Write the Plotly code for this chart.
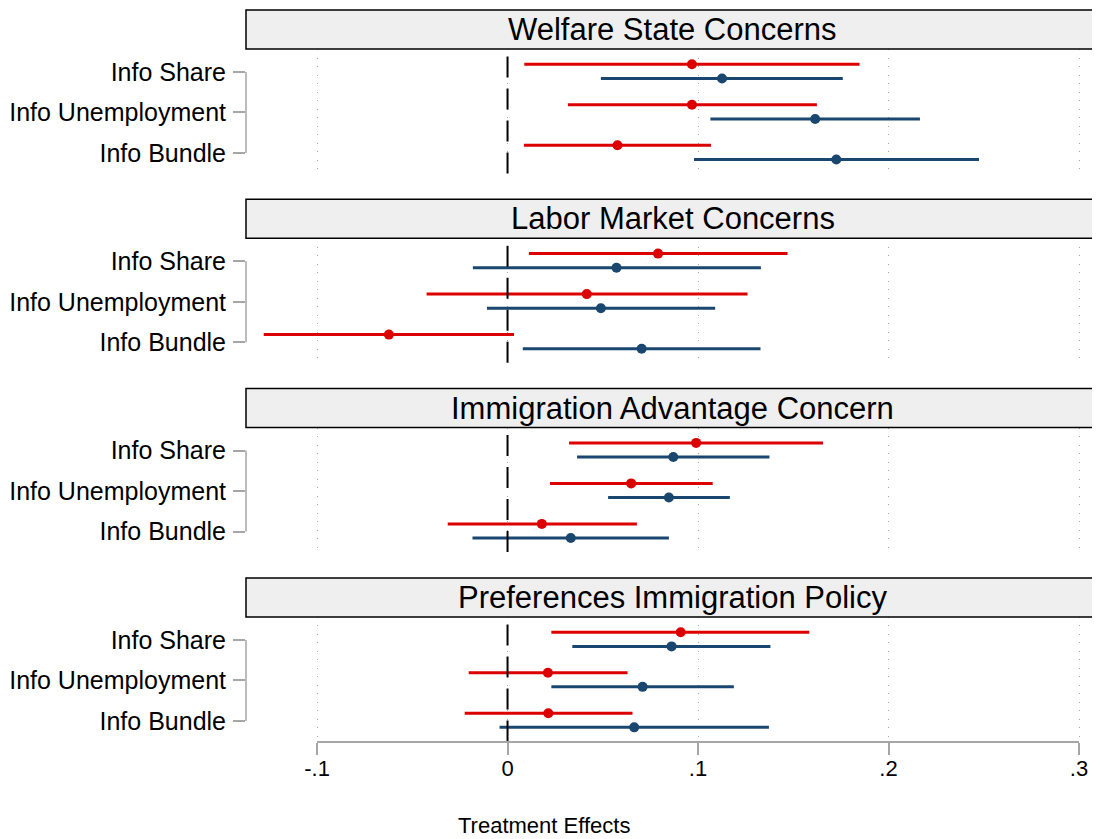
import plotly.graph_objects as go

# ---------------- data ----------------
panel_titles = ["Welfare State Concerns", "Labor Market Concerns",
                "Immigration Advantage Concern", "Preferences Immigration Policy"]
categories = ["Info Share", "Info Unemployment", "Info Bundle"]

# one inner list per panel, in category order
red_est = [[0.0968, 0.0968, 0.0577],
           [0.0790, 0.0416, -0.0623],
           [0.0990, 0.0649, 0.0180],
           [0.0909, 0.0212, 0.0214]]
red_lo = [[0.0088, 0.0317, 0.0086],
          [0.0112, -0.0425, -0.1280],
          [0.0323, 0.0223, -0.0314],
          [0.0230, -0.0204, -0.0225]]
red_hi = [[0.1848, 0.1624, 0.1068],
          [0.1470, 0.1260, 0.0034],
          [0.1656, 0.1077, 0.0679],
          [0.1584, 0.0630, 0.0656]]

blue_est = [[0.1126, 0.1615, 0.1726],
            [0.0572, 0.0490, 0.0704],
            [0.0870, 0.0847, 0.0332],
            [0.0861, 0.0709, 0.0665]]
blue_lo = [[0.0490, 0.1065, 0.0979],
           [-0.0182, -0.0108, 0.0080],
           [0.0365, 0.0528, -0.0184],
           [0.0340, 0.0230, -0.0042]]
blue_hi = [[0.1760, 0.2165, 0.2475],
           [0.1330, 0.1090, 0.1328],
           [0.1375, 0.1167, 0.0847],
           [0.1380, 0.1188, 0.1372]]

x_tickvals = [-0.1, 0, 0.1, 0.2, 0.3]
x_ticktext = ["-.1", "0", ".1", ".2", ".3"]
x_title = "Treatment Effects"

# ---------------- styling ----------------
OFF = 8                      # page body margin in the browser
W, H = 1100 - OFF, 839 - OFF
ML, MR = 246 - OFF, 1
PW = W - ML - MR
RED = "#dc0000"
BLUE = "#1a476f"
GRAY = "#a6a6a6"
FONT = "Arial, Liberation Sans, sans-serif"
row_pos = [3, 2, 1]
red_off, blue_off = 0.19, -0.16
panel_step = 189.3
box_top, box_bot, plot_bot = 10 - OFF, 49 - OFF, 174 - OFF


def py(px):
    return 1 - px / H


fig = go.Figure()
layout = dict(
    width=W, height=H,
    margin=dict(l=ML, r=MR, t=0, b=0, pad=0),
    paper_bgcolor="white", plot_bgcolor="white",
    showlegend=False,
    font=dict(family=FONT, color="black"),
)
shapes, annotations = [], []

for k in range(4):
    sfx = "" if k == 0 else str(k + 1)
    xa, ya = "x" + sfx, "y" + sfx
    top_px = box_bot + panel_step * k
    bot_px = plot_bot + panel_step * k
    btop_px = box_top + panel_step * k

    for est, lo, hi, off, col in [(red_est[k], red_lo[k], red_hi[k], red_off, RED),
                                  (blue_est[k], blue_lo[k], blue_hi[k], blue_off, BLUE)]:
        fig.add_trace(go.Scatter(
            x=est, y=[p + off for p in row_pos], mode="markers",
            marker=dict(size=10, color=col),
            error_x=dict(type="data", symmetric=False,
                         array=[h - e for h, e in zip(hi, est)],
                         arrayminus=[e - l for e, l in zip(est, lo)],
                         thickness=3, width=0, color=col),
            xaxis=xa, yaxis=ya, hoverinfo="skip"))

    last = (k == 3)
    layout["xaxis" + sfx] = dict(
        domain=[0, 1], anchor=ya, range=[-0.1373, 0.3105],
        matches=None if k == 0 else "x",
        tickvals=x_tickvals, ticktext=x_ticktext,
        showticklabels=last, ticks="outside" if last else "",
        ticklen=12, tickwidth=2, tickcolor=GRAY,
        ticklabelstandoff=-5,
        tickfont=dict(size=22, family=FONT, color="black"),
        showgrid=True, gridcolor="#a8a8a8", griddash="1px,7.5px", gridwidth=1,
        zeroline=False, showline=False,
    )
    layout["yaxis" + sfx] = dict(
        domain=[py(bot_px), py(top_px)], anchor=xa,
        range=[0.481, 3.568], tickvals=row_pos, ticktext=categories,
        ticks="outside", ticklen=12, tickwidth=1.5, tickcolor=GRAY,
        tickfont=dict(size=25, family=FONT, color="black"),
        ticklabelstandoff=2,
        showgrid=False, zeroline=False, showline=False, fixedrange=True,
    )
    # bracket spine
    shapes.append(dict(type="line", xref="paper", yref=ya, x0=0, x1=0,
                       y0=row_pos[-1], y1=row_pos[0],
                       line=dict(color=GRAY, width=1.5)))
    # dashed zero reference line
    shapes.append(dict(type="line", xref=xa, yref=ya + " domain", x0=0, x1=0,
                       y0=0.94, y1=0.0,
                       line=dict(color="black", width=2, dash="21px,11px")))
    # title strip
    shapes.append(dict(type="rect", xref="paper", yref="paper", x0=0, x1=1,
                       y0=py(top_px), y1=py(btop_px),
                       fillcolor="#efefef", line=dict(color="black", width=1.5),
                       layer="above"))
    annotations.append(dict(text=panel_titles[k], xref="paper", yref="paper",
                            x=0.5, y=py((btop_px + top_px) / 2),
                            xanchor="center", yanchor="middle", showarrow=False,
                            font=dict(size=31, family=FONT, color="black")))
    if last:
        # x axis line from first to last tick
        shapes.append(dict(type="line", xref=xa, yref=ya + " domain",
                           x0=x_tickvals[0], x1=x_tickvals[-1], y0=0, y1=0,
                           line=dict(color=GRAY, width=2)))

annotations.append(dict(text=x_title, xref="paper", yref="paper",
                        x=(544 - OFF - ML) / PW, y=py(825.5 - OFF),
                        xanchor="center", yanchor="middle", showarrow=False,
                        font=dict(size=22, family=FONT, color="black")))

layout["shapes"] = shapes
layout["annotations"] = annotations
fig.update_layout(**layout)
fig.write_html("out.html")
